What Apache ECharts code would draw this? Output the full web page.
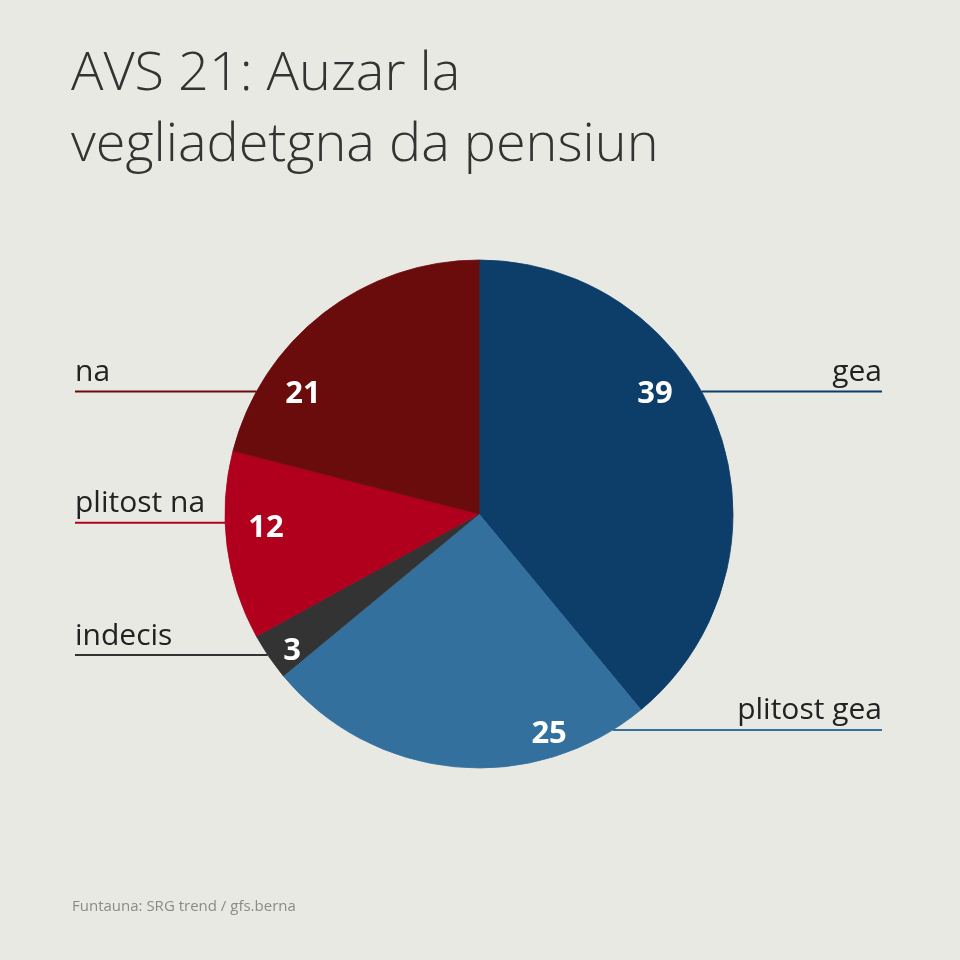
<!DOCTYPE html>
<html>
<head>
    <meta charset="utf-8">
    <title>AVS 21</title>
    <script src="https://cdn.jsdelivr.net/npm/echarts@6/dist/echarts.min.js"></script>
    <style>
        html, body { margin: 0; padding: 0; background: #e9e9e4; }
    </style>
</head>
<body>
<div id="main" style="width: 960px;height:960px;"></div>
<script type="text/javascript">
    // datas (percent)
    var categories = ['gea', 'plitost gea', 'indecis', 'plitost na', 'na'];
    var values = [39, 25, 3, 12, 21];
    var colors = ['#0d3d69', '#33709e', '#333333', '#b0001e', '#6b0c0c'];

    // pie geometry, in px
    var CX = 479, CY = 514, R = 254;
    var LEFT_X = 75, RIGHT_X = 882;

    // where the leader line and the number sit, in units of the radius (relative to centre)
    var spots = {
        'gea':         { side: 'right', lineY: -0.482, num: [0.693, -0.47] },
        'plitost gea': { side: 'right', lineY: 0.850,  num: [0.276, 0.865] },
        'indecis':     { side: 'left',  lineY: 0.555,  num: [-0.736, 0.54] },
        'plitost na':  { side: 'left',  lineY: 0.034,  num: [-0.839, 0.055] },
        'na':          { side: 'left',  lineY: -0.482, num: [-0.693, -0.47] }
    };

    var pieData = [];
    for (var i = 0; i < categories.length; i++) {
        pieData.push({
            name: categories[i],
            value: values[i],
            itemStyle: {color: colors[i], borderColor: colors[i], borderWidth: 0.8}
        });
    }

    var option = {
        backgroundColor: '#e9e9e4',
        animation: false,
        title: [{
            text: 'AVS 21: Auzar la\nvegliadetgna da pensiun',
            left: 66,
            top: 34,
            textStyle: {
                fontFamily: 'Open Sans',
                fontWeight: 300,
                fontSize: 54,
                lineHeight: 71,
                color: '#333333'
            }
        }, {
            text: 'Funtauna: SRG trend / gfs.berna',
            left: 67,
            top: 894,
            textStyle: {
                fontFamily: 'Open Sans',
                fontWeight: 'normal',
                fontSize: 15,
                color: '#8a8a8a'
            }
        }],
        series: [
            {
                name: 'names',
                type: 'pie',
                center: [CX, CY],
                radius: [0, R],
                startAngle: 90,
                clockwise: true,
                avoidLabelOverlap: false,
                silent: true,
                label: {
                    show: true,
                    position: 'outside',
                    formatter: '{b}',
                    fontFamily: 'Open Sans',
                    fontSize: 30,
                    lineHeight: 32,
                    color: '#222222'
                },
                labelLine: {
                    show: true,
                    lineStyle: {width: 2}
                },
                labelLayout: function (params) {
                    var s = spots[categories[params.dataIndex]];
                    var dy = s.lineY * R;
                    var dx = Math.sqrt(R * R - dy * dy);
                    var y = CY + dy;
                    var isLeft = s.side === 'left';
                    var edgeX = isLeft ? CX - dx : CX + dx;
                    var endX = isLeft ? LEFT_X : RIGHT_X;
                    return {
                        x: endX,
                        y: y - 3,
                        align: isLeft ? 'left' : 'right',
                        verticalAlign: 'bottom',
                        labelLinePoints: [[edgeX, y], [edgeX, y], [endX, y]]
                    };
                },
                data: pieData
            },
            {
                name: 'numbers',
                type: 'pie',
                center: [CX, CY],
                radius: [0, R],
                startAngle: 90,
                clockwise: true,
                avoidLabelOverlap: false,
                silent: true,
                itemStyle: {color: 'rgba(0,0,0,0)', borderWidth: 0},
                label: {
                    show: true,
                    position: 'inside',
                    formatter: '{c}',
                    fontFamily: 'Open Sans',
                    fontWeight: 'bold',
                    fontSize: 31,
                    color: '#ffffff'
                },
                labelLine: {show: false},
                labelLayout: function (params) {
                    var s = spots[categories[params.dataIndex]];
                    return {
                        x: CX + s.num[0] * R,
                        y: CY + s.num[1] * R,
                        align: 'center',
                        verticalAlign: 'middle'
                    };
                },
                data: categories.map(function (c, i) { return {name: c, value: values[i]}; })
            }
        ]
    };

    var myChart = echarts.init(document.getElementById('main'));
    myChart.setOption(option);
</script>
</body>
</html>
